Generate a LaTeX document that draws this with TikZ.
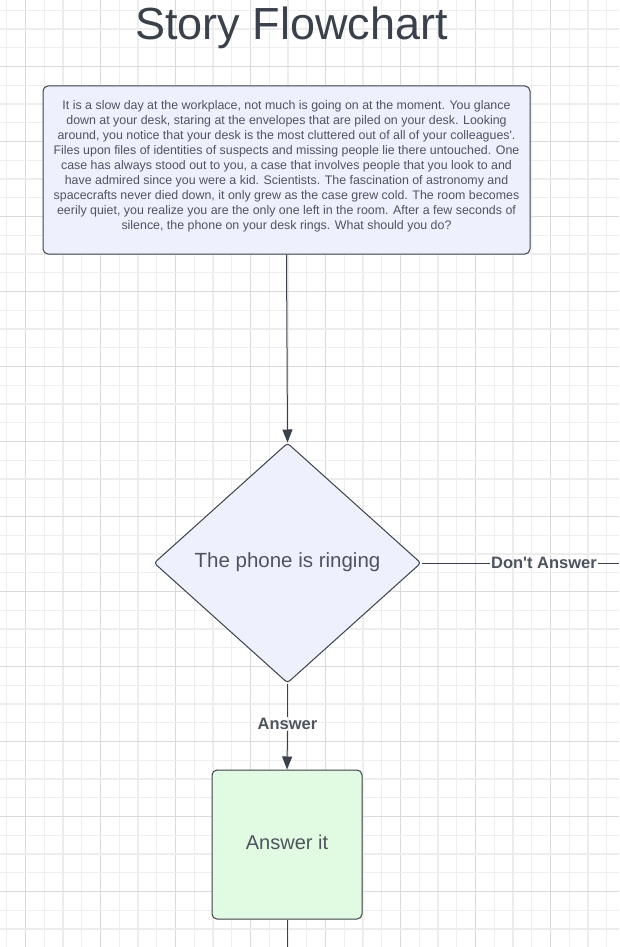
\documentclass[tikz,border=0pt]{standalone}
\usepackage{fontspec}
\setmainfont{Liberation Sans}
\usetikzlibrary{shapes.geometric,arrows.meta}
\definecolor{gminor}{HTML}{EEEEEE}
\definecolor{gdark}{HTML}{DADADA}
\definecolor{glight}{HTML}{EDEDED}
\definecolor{stroke}{HTML}{3A414A}
\definecolor{titlec}{HTML}{3A414A}
\definecolor{bodyc}{HTML}{4E545E}
\definecolor{lavender}{HTML}{EFF0FD}
\definecolor{mint}{HTML}{E1FAE2}
\tikzset{
  boxstyle/.style={draw=stroke, line width=1pt, rounded corners=5pt, inner sep=0pt},
  decision/.style={diamond, draw=stroke, line width=1pt, fill=lavender, rounded corners=3pt,
    inner sep=0pt, minimum width=267pt, minimum height=240pt, text=bodyc,
    font=\fontsize{20.5}{24}\selectfont},
  conn/.style={draw=stroke, line width=1pt},
  arr/.style={conn, -{Triangle[length=13pt,width=10pt]}},
  lbl/.style={text=bodyc, font=\fontsize{16.5}{20}\selectfont\bfseries, inner sep=1pt}
}
\begin{document}
\begin{tikzpicture}[x=1pt,y=-1pt]
\useasboundingbox (0,0) rectangle (619,947);
\fill[white] (0,0) rectangle (619,947);
% grid
\foreach \k in {0,...,32}{
  \pgfmathsetmacro\xx{6.6+18.75*\k}
  \pgfmathtruncatemacro\m{mod(\k,4)}
  \ifnum\m=1 \draw[gdark, line width=1pt] (\xx,0) -- (\xx,947);
  \else\ifnum\m=3 \draw[glight, line width=2pt] (\xx,0) -- (\xx,947);
  \else \draw[gminor, line width=1pt] (\xx,0) -- (\xx,947); \fi\fi
}
\foreach \k in {0,...,50}{
  \pgfmathsetmacro\yy{10.45+18.75*\k}
  \pgfmathtruncatemacro\m{mod(\k,4)}
  \ifnum\m=3 \draw[gdark, line width=1pt] (0,\yy) -- (619,\yy);
  \else\ifnum\m=1 \draw[glight, line width=2pt] (0,\yy) -- (619,\yy);
  \else \draw[gminor, line width=1pt] (0,\yy) -- (619,\yy); \fi\fi
}
% title
\node[anchor=base, text=titlec, font=\fontsize{45}{50}\selectfont, inner sep=0pt] (title) at (291.5,40) {Story Flowchart};
% intro box
\node[boxstyle, fill=lavender, minimum width=487pt, minimum height=168pt] (intro) at (286.5,170) {};
\node[text=bodyc, align=center, font=\fontsize{12.4}{15}\selectfont, inner sep=0pt] (introtext) at (286.5,166) {It is a slow day at the workplace, not much is going on at the moment. You glance\\
down at your desk, staring at the envelopes that are piled on your desk. Looking\\
around, you notice that your desk is the most cluttered out of all of your colleagues\textquotesingle.\\
Files upon files of identities of suspects and missing people lie there untouched. One\\
case has always stood out to you, a case that involves people that you look to and\\
have admired since you were a kid. Scientists. The fascination of astronomy and\\
spacecrafts never died down, it only grew as the case grew cold. The room becomes\\
eerily quiet, you realize you are the only one left in the room. After a few seconds of\\
silence, the phone on your desk rings. What should you do?};
% decision
\node[decision] (phone) at (287.5,563) {\raisebox{6pt}{The phone is ringing}};
% answer box
\node[boxstyle, fill=mint, minimum width=150pt, minimum height=149pt, text=bodyc,
  font=\fontsize{20}{24}\selectfont] (answer) at (287,844.5) {\raisebox{5pt}{Answer it}};
% connectors
\draw[arr] (intro.south) -- (phone.north);
\node[lbl] (lans) at (287.5,724) {Answer};
\draw[conn] (phone.south) -- (lans.north);
\draw[arr] (lans.south) -- (answer.north);
\node[lbl] (ldont) at (544,563) {Don\textquotesingle t Answer};
\draw[conn] (phone.east) -- (ldont.west);
\coordinate (rightend) at (619,563);
\draw[conn] (ldont.east) -- (rightend);
\coordinate (bottomend) at (287,947);
\draw[conn] (answer.south) -- (bottomend);
\end{tikzpicture}
\end{document}
